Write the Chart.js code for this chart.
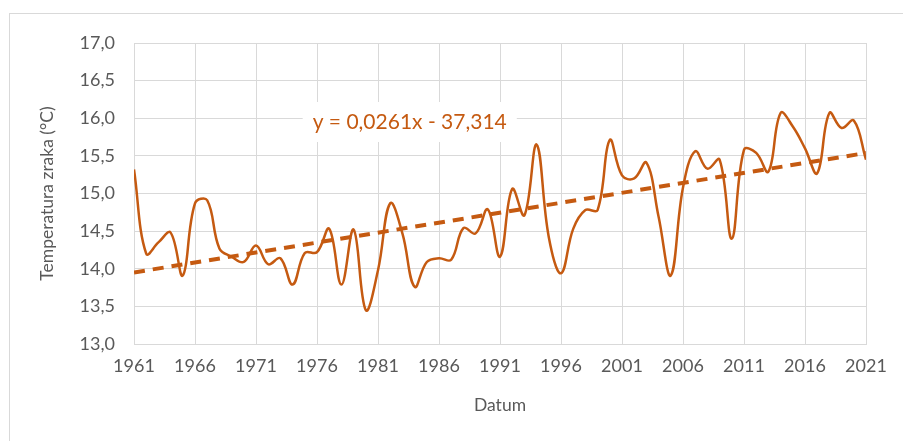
<!DOCTYPE html>
<html>
<head>
<meta charset="utf-8">
<title>Temperatura zraka 1961-2021</title>
<script src="https://cdn.jsdelivr.net/npm/chart.js@4/dist/chart.umd.min.js"></script>
<style>
  body { margin: 0; background: #fff; }
  canvas { display: block; }
</style>
</head>
<body>
<canvas id="tempChart" width="903" height="441"></canvas>
<script>
// Years on the x axis
const firstYear = 1961;
const lastYear = 2021;
const years = [];
for (let y = firstYear; y <= lastYear; y++) years.push(y);

// Mean annual air temperature (°C)
const temps = [
    15.32, 14.20, 14.35, 14.48, 13.91, 14.87, 14.91, 14.27, 14.16, 14.09,
    14.31, 14.06, 14.14, 13.79, 14.21, 14.22, 14.53, 13.79, 14.52, 13.45,
    13.98, 14.87, 14.47, 13.76, 14.09, 14.14, 14.12, 14.54, 14.47, 14.79,
    14.16, 15.06, 14.71, 15.65, 14.42, 13.94, 14.53, 14.78, 14.78, 15.71,
    15.24, 15.20, 15.41, 14.69, 13.91, 15.08, 15.56, 15.33, 15.45, 14.40,
    15.58, 15.54, 15.29, 16.07, 15.89, 15.60, 15.27, 16.07, 15.87, 15.97,
    15.45
];

// Tick labels
const xTicks = [1961, 1966, 1971, 1976, 1981, 1986, 1991, 1996, 2001, 2006, 2011, 2016, 2021];
const trendLabel = 'y = 0,0261x - 37,314';

const orange = '#c55a11';
const gridColor = '#d9d9d9';
const textColor = '#595959';

// Least squares trend line from the data
function linearFit(xs, ys) {
    const n = xs.length;
    const mx = xs.reduce((a, b) => a + b, 0) / n;
    const my = ys.reduce((a, b) => a + b, 0) / n;
    let sxy = 0, sxx = 0;
    for (let i = 0; i < n; i++) {
        sxy += (xs[i] - mx) * (ys[i] - my);
        sxx += (xs[i] - mx) * (xs[i] - mx);
    }
    const slope = sxy / sxx;
    return x => my + slope * (x - mx);
}
const trend = linearFit(years, temps);

// Outer frame of the chart
const framePlugin = {
    id: 'frame',
    beforeDraw(chart) {
        const c = chart.ctx;
        c.save();
        c.strokeStyle = gridColor;
        c.lineWidth = 1;
        c.strokeRect(9.5, 13.5, chart.width, chart.height);
        c.restore();
    }
};

// Trend equation label with a white box behind it
const trendLabelPlugin = {
    id: 'trendLabel',
    afterDatasetsDraw(chart) {
        const c = chart.ctx;
        const x = chart.scales.x.getPixelForValue(1983.6);
        const y = chart.scales.y.getPixelForValue(15.95);
        c.save();
        c.font = '21px Lato';
        const w = c.measureText(trendLabel).width;
        c.fillStyle = '#fff';
        c.fillRect(x - w / 2 - 10, y - 20, w + 20, 40);
        c.fillStyle = orange;
        c.textAlign = 'center';
        c.textBaseline = 'middle';
        c.fillText(trendLabel, x, y);
        c.restore();
    }
};

const ctx = document.getElementById('tempChart').getContext('2d');
new Chart(ctx, {
    type: 'line',
    data: {
        datasets: [{
            label: 'Temperatura zraka',
            data: years.map((y, i) => ({ x: y, y: temps[i] })),
            borderColor: orange,
            borderWidth: 2.5,
            pointRadius: 0,
            tension: 0.4,
            fill: false
        }, {
            label: 'Linearni trend',
            data: [firstYear, lastYear].map(y => ({ x: y, y: trend(y) })),
            borderColor: orange,
            borderWidth: 4,
            borderDash: [11, 8],
            pointRadius: 0,
            fill: false
        }]
    },
    options: {
        responsive: false,
        animation: false,
        layout: {
            padding: { left: 10, top: 43, right: 37, bottom: 0 }
        },
        plugins: {
            legend: { display: false },
            tooltip: { enabled: false }
        },
        scales: {
            x: {
                type: 'linear',
                min: firstYear,
                max: lastYear,
                afterBuildTicks: scale => {
                    scale.ticks = xTicks.map(v => ({ value: v }));
                },
                afterFit: scale => { scale.height = 97; },
                grid: { color: gridColor, drawTicks: false },
                border: { color: gridColor },
                ticks: {
                    color: textColor,
                    font: { family: 'Lato', size: 18 },
                    padding: 11,
                    maxRotation: 0,
                    autoSkip: false,
                    callback: v => String(v)
                },
                title: {
                    display: true,
                    text: 'Datum',
                    color: textColor,
                    font: { family: 'Lato', size: 17.5 },
                    padding: { top: 4, bottom: 25 }
                }
            },
            y: {
                min: 13,
                max: 17,
                afterFit: scale => { scale.width = 124; },
                grid: { color: gridColor, drawTicks: false },
                border: { display: false },
                ticks: {
                    stepSize: 0.5,
                    color: textColor,
                    font: { family: 'Lato', size: 18 },
                    padding: 19,
                    callback: v => v.toFixed(1).replace('.', ',')
                },
                title: {
                    display: true,
                    text: 'Temperatura zraka (°C)',
                    color: textColor,
                    font: { family: 'Lato', size: 17.5 },
                    padding: { top: 27, bottom: 0 }
                }
            }
        }
    },
    plugins: [framePlugin, trendLabelPlugin]
});
</script>
</body>
</html>
